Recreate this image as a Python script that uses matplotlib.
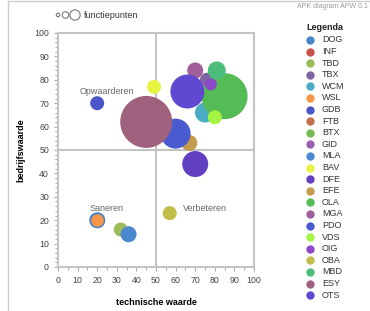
import matplotlib.pyplot as plt
from matplotlib.ticker import MultipleLocator

plt.rcParams['font.family'] = ['Liberation Sans', 'DejaVu Sans']

# applicaties in legend order (also drawing order)
names = ['DOG', 'INF', 'TBD', 'TBX', 'WCM', 'WSL', 'GDB', 'FTB', 'BTX', 'GID', 'MLA', 'BAV',
         'DFE', 'EFE', 'OLA', 'MGA', 'PDO', 'VDS', 'OIG', 'OBA', 'MBD', 'ESY', 'OTS']
colors = ['#4a86c8', '#c9504a', '#9bbb59', '#8064a2', '#4bacc6', '#f79646', '#4a56c8', '#c0704a',
          '#77bb55', '#9a5fae', '#4a88d0', '#e8f440', '#6040c0', '#c49a4c', '#55bb55', '#a05f9a',
          '#4a5bd0', '#a4f442', '#8c48c8', '#c0bd48', '#4dbd7c', '#a0617f', '#6048d0']
technisch = [20, 42, 32, 76, 75, 20, 20, 46, 85, 74, 36, 49,
             70, 67, 85, 70, 60, 80, 78, 57, 81, 45, 66]
bedrijf = [20, 60, 16, 80, 66, 20, 70, 64, 73, 74, 14, 77,
           44, 53, 73, 84, 57, 64, 78, 23, 84, 62, 75]
functiepunten = [64, 49, 49, 49, 100, 49, 49, 49, 400, 49, 64, 49,
                 169, 64, 529, 64, 225, 49, 36, 49, 81, 676, 289]

quadrants = ['Opwaarderen', 'Saneren', 'Verbeteren']
quad_x = [25, 25, 75]
quad_y = [75, 25, 25]

fig = plt.figure(figsize=(3.7, 3.11), dpi=100)
ax = fig.add_axes([0.1568, 0.1415, 0.5297, 0.7524])

sizes = [fp * 2.07 for fp in functiepunten]
for i in range(len(names)):
    edge = '#4a86c8' if names[i] == 'WSL' else 'none'
    ax.scatter(technisch[i], bedrijf[i], s=sizes[i], color=colors[i], edgecolors=edge,
               linewidths=1, zorder=3 + i)

ax.axvline(50, color='#c4c4c4', lw=1.5, zorder=1)
ax.axhline(50, color='#c4c4c4', lw=1.5, zorder=1)
for q, qx, qy in zip(quadrants, quad_x, quad_y):
    ax.text(qx, qy, q, ha='center', va='center', fontsize=6.5, color='#666666', zorder=30)

ax.set_xlim(0, 100)
ax.set_ylim(0, 100)
ax.xaxis.set_major_locator(MultipleLocator(10))
ax.xaxis.set_minor_locator(MultipleLocator(5))
ax.yaxis.set_major_locator(MultipleLocator(10))
ax.yaxis.set_minor_locator(MultipleLocator(2))
ax.tick_params(which='both', colors='#aaaaaa', labelcolor='#444444', labelsize=6.3, width=0.8)
ax.tick_params(which='major', length=3)
ax.tick_params(which='minor', length=2)
for sp in ax.spines.values():
    sp.set_color('#c4c4c4')
    sp.set_linewidth(1.5)
ax.set_xlabel('technische waarde', fontsize=6.5, fontweight='bold', labelpad=9)
ax.set_ylabel('bedrijfswaarde', fontsize=6.5, fontweight='bold', labelpad=6)

# overlay in pixel coordinates for legends, title and frame
ov = fig.add_axes([0, 0, 1, 1], zorder=-1)
ov.set_xlim(0, 370)
ov.set_ylim(311, 0)
ov.axis('off')
ov.plot([8, 8, 370], [311, 1, 1], color='#cccccc', lw=1)
ov.text(368, 6, 'APK diagram APW 0.1', ha='right', va='center', fontsize=5, color='#999999')

ov.scatter([58, 65.5, 75], [15, 15, 15], s=[6, 22, 55], facecolors='white',
           edgecolors='#777777', linewidths=0.8)
ov.text(84, 15, 'functiepunten', ha='left', va='center', fontsize=6.5, color='#333333')

ov.text(306, 27, 'Legenda', ha='left', va='center', fontsize=6.5, fontweight='bold', color='#222222')
for i in range(len(names)):
    yy = 40 + i * 11.6
    ov.plot(310, yy, 'o', color=colors[i], markersize=6, markeredgewidth=0)
    ov.text(322, yy, names[i], ha='left', va='center', fontsize=6.5, color='#333333')

fig.savefig('out.png', dpi=100)
